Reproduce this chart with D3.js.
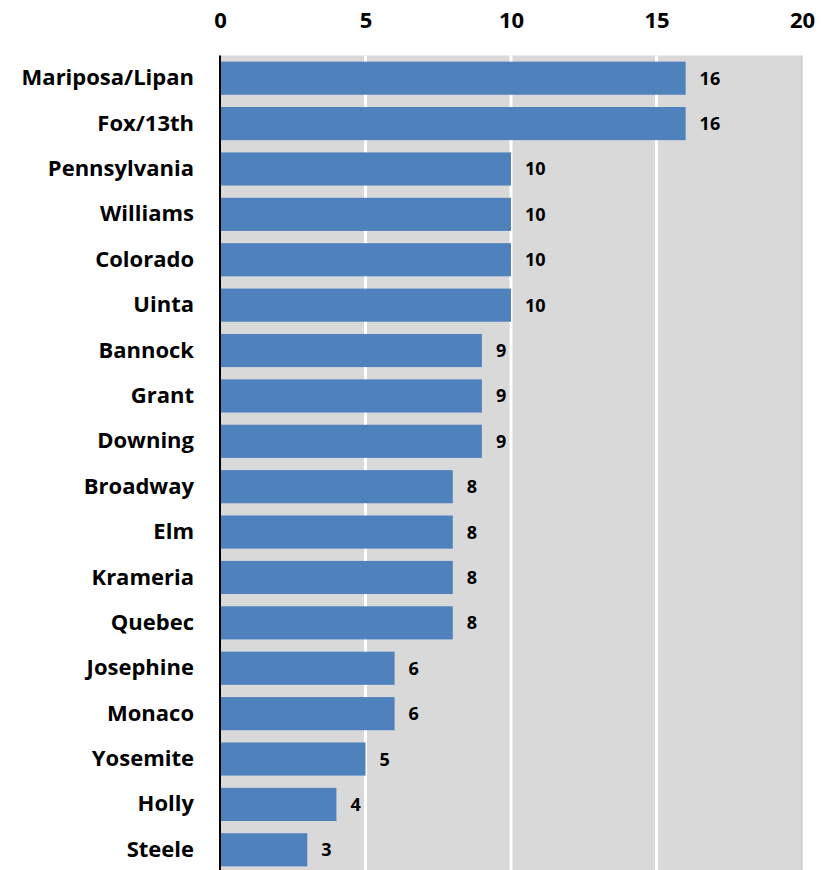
<!DOCTYPE html>
<html><head><meta charset="utf-8">
<script src="https://cdn.jsdelivr.net/npm/d3@7"></script>
<style>body{margin:0;background:#fff;}svg{display:block;}</style>
</head><body>
<svg id="chart" width="829" height="870"></svg>
<script>
const categories = ["Mariposa/Lipan","Fox/13th","Pennsylvania","Williams","Colorado","Uinta","Bannock","Grant","Downing","Broadway","Elm","Krameria","Quebec","Josephine","Monaco","Yosemite","Holly","Steele"];
const values = [16,16,10,10,10,10,9,9,9,8,8,8,8,6,6,5,4,3];
const tickValues = [0,5,10,15,20];

(function(){
const svg = d3.select("#chart");
const pL = 220, pR = 802, pT = 55.5, pB = 872.5;
const x = d3.scaleLinear().domain([0,20]).range([pL,pR]);
const y = d3.scaleBand().domain(categories).range([pT,pB]).paddingInner(0.27).paddingOuter(0.135);
const font = "'Open Sans', 'Liberation Sans', sans-serif";

svg.append("rect").attr("x",pL).attr("y",pT).attr("width",pR-pL).attr("height",pB-pT).attr("fill","#d9d9d9");
svg.append("line").attr("x1",pR).attr("x2",pR).attr("y1",pT).attr("y2",pB).attr("stroke","#bfbfbf").attr("stroke-width",1);

svg.append("g").selectAll("line").data(tickValues.filter(d=>d>0 && d<20)).join("line")
  .attr("x1",d=>x(d)).attr("x2",d=>x(d)).attr("y1",pT).attr("y2",pB)
  .attr("stroke","#fff").attr("stroke-width",3);

const xAxis = svg.append("g").attr("transform",`translate(0,${pT})`)
  .call(d3.axisTop(x).tickValues(tickValues).tickSize(0).tickPadding(27.5));
xAxis.select(".domain").remove();
xAxis.selectAll("text").attr("font-family",font).attr("font-size",22).attr("font-weight","bold").attr("fill","#000");

svg.append("g").selectAll("rect").data(categories).join("rect")
  .attr("x",x(0)).attr("y",d=>y(d)).attr("height",y.bandwidth())
  .attr("width",(d,i)=>x(values[i])-x(0)).attr("fill","#4f81bd");

svg.append("g").selectAll("text").data(categories).join("text")
  .attr("x",(d,i)=>x(values[i])+14).attr("y",d=>y(d)+y.bandwidth()/2).attr("dy","0.36em")
  .attr("font-family",font).attr("font-size",18).attr("font-weight","bold").attr("fill","#000")
  .text((d,i)=>values[i]);

const yAxis = svg.append("g").attr("transform",`translate(${pL},0)`)
  .call(d3.axisLeft(y).tickSize(0).tickPadding(26));
yAxis.select(".domain").remove();
yAxis.selectAll("text").attr("font-family",font).attr("font-size",22).attr("font-weight","bold").attr("fill","#000");

svg.append("line").attr("x1",pL).attr("x2",pL).attr("y1",pT).attr("y2",pB).attr("stroke","#000").attr("stroke-width",2);
})();
</script>
</body></html>
